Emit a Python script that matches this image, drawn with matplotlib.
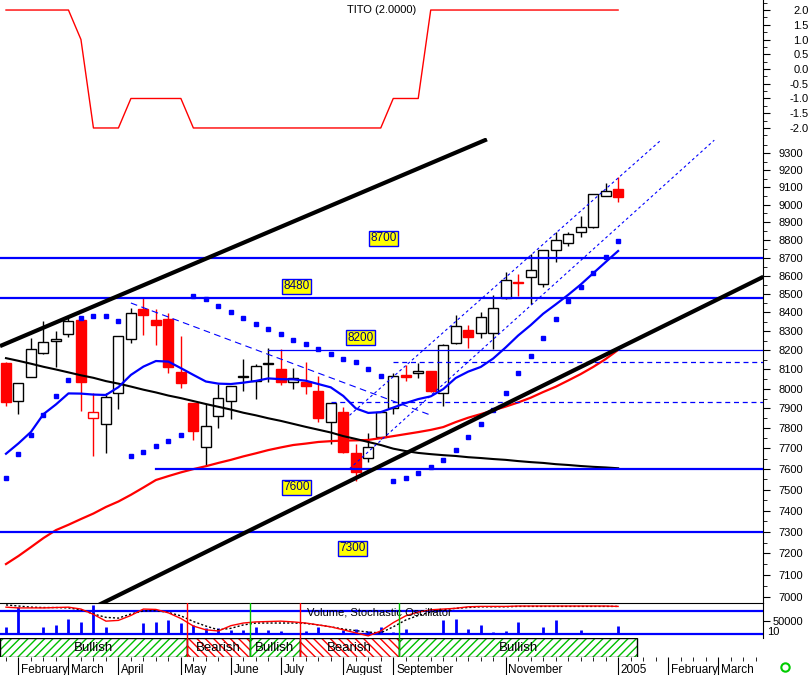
import numpy as np
import pandas as pd
import matplotlib
matplotlib.use("Agg")
import matplotlib.pyplot as plt
from matplotlib.patches import Rectangle
from matplotlib.lines import Line2D
from matplotlib.ticker import FixedLocator, NullFormatter
from matplotlib.transforms import ScaledTranslation

plt.rcParams['font.family'] = ['Liberation Sans', 'DejaVu Sans']

# ---- weekly data, first week starting 26 Jan 2004 ----
first_week = '2004-01-26'

opens = [8134, 7938, 8061, 8186, 8250, 8283, 8360, 7850, 7820, 7977,
         8257, 8418, 8360, 8365, 8085, 7925, 7705, 7863, 7936, 8058,
         8041, 8126, 8100, 8032, 8034, 7988, 7830, 7882, 7676, 7651,
         7758, 7900, 8068, 8079, 8091, 7977, 8235, 8306, 8288, 8292,
         8476, 8566, 8594, 8552, 8742, 8783, 8842, 8873, 9051, 9090]
highs = [8139, 8030, 8262, 8354, 8300, 8372, 8382, 7977, 7977, 8273,
         8424, 8485, 8418, 8398, 8274, 7925, 7920, 8022, 8016, 8153,
         8130, 8209, 8204, 8108, 8139, 8065, 7928, 7905, 7720, 7775,
         7885, 8079, 8121, 8134, 8093, 8230, 8386, 8334, 8400, 8492,
         8620, 8609, 8718, 8745, 8842, 8842, 8934, 9062, 9123, 9159]
lows = [7911, 7871, 8058, 8178, 8113, 8270, 7888, 7664, 7679, 7895,
        8240, 8279, 8227, 8082, 8005, 7741, 7614, 7799, 7845, 7990,
        7946, 8035, 8019, 8000, 7971, 7833, 7720, 7680, 7542, 7633,
        7745, 7871, 8041, 8053, 7985, 7913, 8230, 8212, 8262, 8204,
        8470, 8488, 8443, 8537, 8677, 8763, 8815, 8864, 9048, 9016]
closes = [7934, 8027, 8204, 8241, 8256, 8352, 8035, 7880, 7957, 8273,
          8395, 8388, 8334, 8112, 8030, 7788, 7809, 7955, 8014, 8064,
          8115, 8132, 8035, 8053, 8015, 7853, 7925, 7684, 7586, 7709,
          7883, 8065, 8062, 8091, 7990, 8227, 8327, 8268, 8374, 8422,
          8576, 8560, 8630, 8742, 8798, 8830, 8873, 9059, 9080, 9045]

ma_short = [7674, 7725, 7782, 7871, 7920, 7976, 7975, 7970, 7968, 8008,
            8071, 8114, 8143, 8140, 8106, 8071, 8037, 8026, 8024, 8031,
            8040, 8053, 8049, 8048, 8041, 8024, 8007, 7963, 7900, 7877,
            7881, 7904, 7927, 7947, 7961, 7998, 8055, 8088, 8112, 8156,
            8214, 8277, 8332, 8393, 8443, 8495, 8551, 8613, 8675, 8737]
ma_mid = [8158, 8144, 8129, 8113, 8099, 8084, 8069, 8056, 8039, 8026,
          8011, 7995, 7981, 7965, 7952, 7937, 7922, 7908, 7894, 7878,
          7865, 7850, 7837, 7822, 7807, 7793, 7779, 7761, 7747, 7732,
          7717, 7699, 7687, 7678, 7672, 7667, 7663, 7657, 7653, 7648,
          7644, 7638, 7633, 7629, 7623, 7619, 7614, 7610, 7607, 7603]
ma_long = [7151, 7188, 7229, 7271, 7308, 7333, 7360, 7386, 7417, 7443,
           7475, 7510, 7546, 7565, 7583, 7599, 7613, 7629, 7644, 7661,
           7676, 7692, 7705, 7717, 7724, 7732, 7736, 7739, 7740, 7742,
           7751, 7761, 7771, 7781, 7792, 7806, 7831, 7853, 7871, 7890,
           7909, 7930, 7954, 7983, 8010, 8042, 8075, 8112, 8153, 8201]
sar = [7555, 7671, 7767, 7867, 7963, 8045, 8371, 8380, 8380, 8354,
       7662, 7681, 7712, 7738, 7769, 8488, 8470, 8434, 8401, 8368,
       8337, 8310, 8283, 8252, 8231, 8204, 8179, 8155, 8136, 8100,
       8065, 7541, 7555, 7579, 7610, 7642, 7691, 7758, 7820, 7892,
       7976, 8079, 8167, 8262, 8363, 8461, 8537, 8613, 8705, 8792]

tito = [2, 2, 2, 2, 2, 2, 1, -2, -2, -2,
        -1, -1, -1, -1, -1, -2, -2, -2, -2, -2,
        -2, -2, -2, -2, -2, -2, -2, -2, -2, -2,
        -2, -1, -1, -1, 2, 2, 2, 2, 2, 2,
        2, 2, 2, 2, 2, 2, 2, 2, 2, 2]

# volume in thousands
volume = [28, 103, 5, 26, 35, 57, 47, 112, 28, 0,
          0, 44, 47, 54, 44, 35, 23, 23, 17, 14,
          27, 14, 10, 0, 12, 25, 4, 17, 19, 12,
          25, 8, 21, 4, 4, 54, 57, 21, 35, 8,
          10, 47, 0, 27, 54, 0, 17, 4, 2, 31]
stoch_k = [91, 89, 89, 89, 90, 91, 86, 72, 54, 56,
           69, 86, 85, 76, 61, 41, 31, 28, 42, 49,
           52, 53, 54, 52, 49, 44, 39, 31, 23, 15,
           28, 50, 68, 78, 84, 86, 88, 92, 93, 93,
           93, 94, 94, 94, 94, 94, 94, 94, 94, 93]
stoch_d = [97, 94, 91, 90, 90, 89, 84, 73, 64, 62,
           73, 81, 82, 77, 68, 53, 41, 31, 35, 44,
           49, 49, 49, 49, 48, 44, 39, 33, 29, 25,
           23, 39, 57, 69, 78, 84, 88, 90, 92, 92,
           92, 93, 93, 93, 93, 93, 93, 93, 93, 93]

# support / resistance levels, week where each one starts (None = whole chart)
levels = [8700, 8480, 8200, 7600, 7300]
level_start = [None, None, 21, 12, None]
dash_levels = [8137, 7932]
dash_start = [31, 26]

# trend lines: (week, price) pairs
trend_up = [(-0.48, 8221), (38.5, 9384)]
trend_low = [(5.0, 6900), (60.63, 8594)]
trend_down = [(10.0, 8451), (33.95, 7867)]
channel_top = [(27.5, 7865), (52.4, 9377)]
channel_bot = [(27.5, 7601), (56.7, 9379)]

regimes = ['Bullish', 'Bearish', 'Bullish', 'Bearish', 'Bullish']
regime_start = [0, 15, 20, 24, 32]
regime_end = 51

month_labels = ['February', 'March', 'April', 'May', 'June', 'July', 'August',
                'September', '', 'November', '', '2005', 'February', 'March']

# ---- layout ----
n = len(opens)
x = np.arange(n)
XLIM = (-0.48, 60.6)
weeks = pd.date_range(first_week, periods=61, freq='W-MON')
fridays = weeks + pd.Timedelta(days=4)
month_pos = [i for i in range(1, len(weeks)) if fridays[i].month != fridays[i - 1].month]

fig = plt.figure(figsize=(8.1, 6.75), dpi=100)
W = 763 / 810


def rect(top, bottom):
    return [0, 1 - bottom / 675, W, (bottom - top) / 675]


ax_t = fig.add_axes(rect(0, 138))
ax = fig.add_axes(rect(138, 603))
ax_v = fig.add_axes(rect(603, 638))
ax_b = fig.add_axes(rect(638, 657))

for a in (ax_t, ax, ax_v, ax_b):
    a.set_xlim(*XLIM)
    a.set_xticks([])
    for s in ('left', 'top', 'bottom'):
        a.spines[s].set_visible(False)
    a.patch.set_alpha(0)

# ---- TITO panel ----
ax_t.plot(x, tito, color='red', lw=1)
ax_t.set_ylim(-2.34, 2.34)
ax_t.text(30.1, 2.0, 'TITO (2.0000)', ha='center', va='center', fontsize=8)
ax_t.yaxis.tick_right()
ax_t.set_yticks(np.arange(-2, 2.01, 0.5))
ax_t.set_yticklabels([f'{v:.1f}' for v in np.arange(-2, 2.01, 0.5)])
ax_t.yaxis.set_minor_locator(FixedLocator(np.arange(-2.25, 2.3, 0.25)))
ax_t.tick_params(axis='y', which='major', length=5, pad=28, labelsize=8)
ax_t.tick_params(axis='y', which='minor', length=3)
for lbl in ax_t.get_yticklabels():
    lbl.set_horizontalalignment('right')

# ---- main price panel ----
ax.set_yscale('log')
ax.set_ylim(6975, 9392)

for i in range(n):
    o, h, l, c = opens[i], highs[i], lows[i], closes[i]
    if c < o:
        face, edge = 'red', 'red'
    elif i > 0 and c < closes[i - 1]:
        face, edge = 'white', 'red'
    else:
        face, edge = 'white', 'black'
    ax.vlines(i, l, h, color=edge, lw=1, zorder=2)
    ax.add_patch(Rectangle((i - 0.4, min(o, c)), 0.8, abs(c - o),
                           facecolor=face, edgecolor=edge, lw=1, zorder=2.5))

ax.plot(x, ma_long, color='red', lw=1.6, zorder=3)
ax.plot(x, ma_mid, color='black', lw=1.5, zorder=3)
ax.plot(x, ma_short, color='blue', lw=1.6, zorder=3)
ax.plot(x, sar, ls='none', marker='s', ms=2.6, color='blue', zorder=3)

for lvl, st in zip(levels, level_start):
    lw = 0.9 if lvl == 8200 else 1.6
    x0 = XLIM[0] if st is None else st
    ax.plot([x0, XLIM[1]], [lvl, lvl], color='blue', lw=lw, zorder=3)
for lvl, st in zip(dash_levels, dash_start):
    ax.plot([st, XLIM[1]], [lvl, lvl], color='blue', lw=0.9, ls=(0, (4, 3)), zorder=3)

for seg in (trend_up, trend_low):
    (xa, ya), (xb, yb) = seg
    ax.plot([xa, xb], [ya, yb], color='black', lw=3, zorder=4, solid_capstyle='butt')
(xa, ya), (xb, yb) = trend_down
ax.plot([xa, xb], [ya, yb], color='blue', lw=0.8, ls=(0, (6, 4)), zorder=3)
for seg in (channel_top, channel_bot):
    (xa, ya), (xb, yb) = seg
    ax.plot([xa, xb], [ya, yb], color='blue', lw=0.8, ls=(0, (2.5, 2.5)), zorder=3)

label_x = [30.2, 23.26, 28.4, 23.26, 27.74]
label_dy = [14, 8.3, 9, -13.3, -11.9]
for lvl, lx, dy in zip(levels, label_x, label_dy):
    ax.annotate(str(lvl), (lx, lvl), xytext=(0, dy), textcoords='offset points',
                ha='center', va='center', fontsize=8.5, color='#000080', zorder=6,
                bbox=dict(boxstyle='square,pad=0.12', fc='yellow', ec='blue', lw=1))

ax.yaxis.tick_right()
ticks = np.arange(7000, 9301, 100)
ax.yaxis.set_major_locator(FixedLocator(ticks))
ax.set_yticklabels([str(t) for t in ticks])
ax.yaxis.set_minor_locator(FixedLocator(np.arange(6950, 9351, 100)))
ax.yaxis.set_minor_formatter(NullFormatter())
ax.tick_params(axis='y', which='major', length=5, pad=6, labelsize=8)
ax.tick_params(axis='y', which='minor', length=3)

# ---- volume / stochastic panel ----
ax_s = ax_v.twinx()
ax_s.set_xlim(*XLIM)
ax_s.set_ylim(9.4, 102)
ax_s.axis('off')
ax_s.axhline(80, color='blue', lw=1.6)
ax_s.axhline(20, color='blue', lw=1.6)
ax_s.plot(x, stoch_d, color='black', lw=1, ls=(0, (1.5, 1.5)))
ax_s.plot(x, stoch_k, color='red', lw=1)
ax_s.text(29.9, 78, 'Volume, Stochastic Oscillator', ha='center', va='center', fontsize=8)

ax_v.spines['top'].set_visible(True)
ax_v.spines['right'].set_visible(True)
ax_v.spines['left'].set_visible(False)
ax_v.vlines(x, 0, np.array(volume) * 1000, color='blue', lw=2, zorder=3)
ax_v.set_ylim(-15385, 119231)
ax_v.yaxis.tick_right()
ax_v.set_yticks([50000])
ax_v.set_yticklabels(['50000'])
ax_v.tick_params(axis='y', length=5, pad=2, labelsize=8)
ax_v.text(1.005, 0.17, '10', transform=ax_v.transAxes, fontsize=8, va='center')

# ---- bullish / bearish band ----
ax_b.set_ylim(0, 1)
ax_b.set_yticks([])
ax_b.spines['right'].set_visible(False)
ends = regime_start[1:] + [regime_end]
for name, st, en in zip(regimes, regime_start, ends):
    col = '#00c000' if name == 'Bullish' else 'red'
    hatch = '////' if name == 'Bullish' else '\\\\\\\\'
    ax_b.add_patch(Rectangle((st - 0.5, 0), en - st, 1, facecolor='white',
                             edgecolor=col, hatch=hatch, lw=0))
    ax_b.add_patch(Rectangle((st - 0.5, 0), en - st, 1, fill=False,
                             edgecolor='black', lw=1))
    ax_b.text((st + en - 1) / 2, 0.45, name, ha='center', va='center', fontsize=9.5)
    if st > 0:
        for a in (ax_s, ax_b):
            a.axvline(st - 0.5, color=col, lw=1, zorder=4)

ax_b.xaxis.set_major_locator(FixedLocator([p for p, t in zip(month_pos, month_labels) if t]))
ax_b.set_xticklabels([t for t in month_labels if t])
ax_b.xaxis.set_minor_locator(FixedLocator(np.arange(0, 61)))
ax_b.tick_params(axis='x', which='major', length=13, pad=-8, labelsize=8.5)
ax_b.tick_params(axis='x', which='minor', length=3)
for lbl in ax_b.get_xticklabels():
    lbl.set_horizontalalignment('left')
    lbl.set_transform(lbl.get_transform() + ScaledTranslation(2 / 72, 0, fig.dpi_scale_trans))

fig.add_artist(Line2D([785 / 810], [1 - 667 / 675], marker='o', ms=6, mfc='none',
                      mec='#00cc00', mew=1.5, transform=fig.transFigure))

fig.savefig('out.png', dpi=100)
